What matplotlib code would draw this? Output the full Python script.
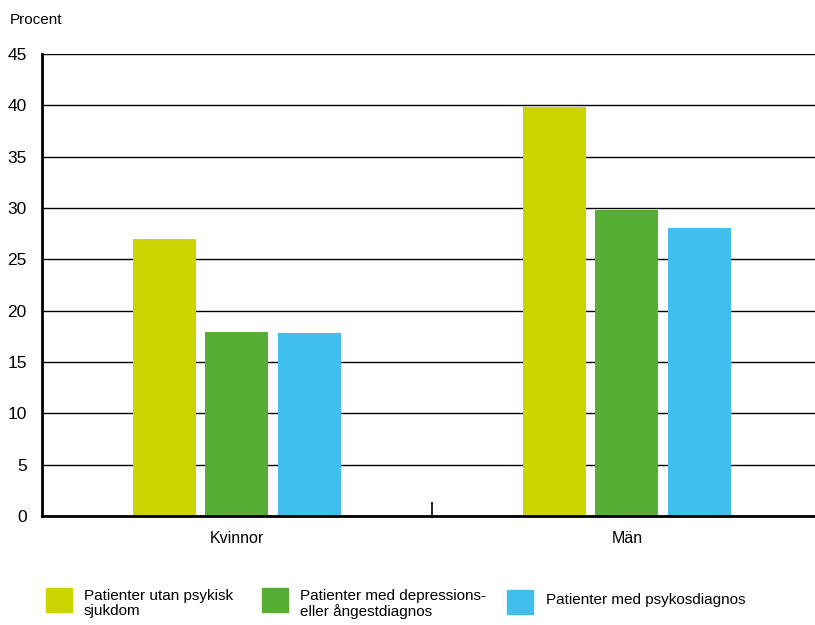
import matplotlib.pyplot as plt
from matplotlib.patches import Rectangle
import numpy as np

categories = ['Kvinnor', 'Män']
series = ['Patienter utan psykisk\nsjukdom',
          'Patienter med depressions-\neller ångestdiagnos',
          'Patienter med psykosdiagnos']
values = [[27.0, 39.8],   # utan psykisk sjukdom
          [17.9, 29.8],   # depression/ångest
          [17.8, 28.1]]   # psykos
colors = ['#CCD400', '#57AE34', '#40BFEE']
yticks = [0, 5, 10, 15, 20, 25, 30, 35, 40, 45]

plt.rcParams['font.family'] = ['Liberation Sans', 'DejaVu Sans']

fig = plt.figure(figsize=(8.15, 6.25), dpi=100)
ax = fig.add_axes([0.0515, 0.1744, 0.957, 0.7392])

x = np.arange(len(categories))
width = 0.1615
step = 0.186
for i, (vals, c) in enumerate(zip(values, colors)):
    ax.bar(x + (i - 1) * step, vals, width, color=c, zorder=3)

ax.set_xlim(-0.5, 1.5)
ax.set_ylim(0, 45)
ax.set_yticks(yticks)
ax.yaxis.grid(True, color='black', lw=1.0, zorder=1)
ax.set_axisbelow(True)

ax.set_xticks(x)
ax.set_xticklabels(categories, fontsize=11.5)
ax.set_xticks([0.5], minor=True)
ax.tick_params(axis='x', which='major', length=0, pad=11)
ax.tick_params(axis='x', which='minor', direction='in', length=10, width=1.2)
ax.tick_params(axis='y', length=0, pad=11, labelsize=12.5)

for s in ['top', 'right']:
    ax.spines[s].set_visible(False)
ax.spines['left'].set_linewidth(2)
ax.spines['bottom'].set_linewidth(2)
ax.spines['bottom'].set_zorder(4)

fig.text(10 / 815, 1 - 20 / 625, 'Procent', fontsize=11, ha='left', va='center')

# legend, laid out by hand
W, H = 815.0, 625.0
leg = [(46, 588, 84, 589), (262, 588, 300, 589), (507, 590, 546, 600)]
for (sx, sy, tx, ty), lab, c in zip(leg, series, colors):
    fig.patches.append(Rectangle((sx / W, 1 - (sy + 24) / H), 26 / W, 24 / H,
                                 transform=fig.transFigure, color=c))
    fig.text(tx / W, 1 - ty / H, lab, fontsize=11, ha='left', va='top' if '\n' in lab else 'center',
             linespacing=1.12)

plt.savefig('out.png')
